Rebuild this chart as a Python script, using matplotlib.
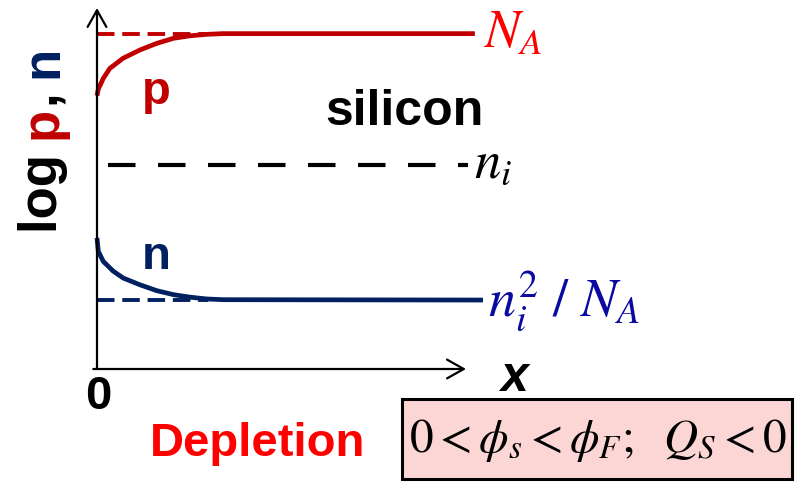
import matplotlib
matplotlib.use("Agg")
import matplotlib.pyplot as plt
from matplotlib.patches import Rectangle

plt.rcParams['mathtext.fontset'] = 'stix'
SANS = ['Liberation Sans', 'DejaVu Sans']

# Depth into the silicon (normalised) and log concentration (normalised)
depth_p = [0.0, 0.0035, 0.017, 0.035, 0.071, 0.117, 0.162, 0.207, 0.252, 0.297, 0.341, 1.024]
log_p = [0.757, 0.775, 0.805, 0.833, 0.861, 0.884, 0.902, 0.916, 0.923, 0.927, 0.929, 0.929]

depth_n = [0.0, 0.0035, 0.017, 0.044, 0.071, 0.117, 0.162, 0.207, 0.252, 0.297, 0.342, 1.046]
log_n = [0.363, 0.326, 0.298, 0.271, 0.252, 0.233, 0.217, 0.206, 0.199, 0.194, 0.192, 0.191]

level_NA = 0.929      # log N_A
level_ni = 0.565      # log n_i
level_n0 = 0.191      # log n_i^2 / N_A

RED = '#C00000'
NAVY = '#002060'

W, H = 796, 482
fig = plt.figure(figsize=(W / 100, H / 100), dpi=100)
fig.patch.set_facecolor('white')

x0, y0, x1, y1 = 97, 369, 466, 8
ax = fig.add_axes([x0 / W, 1 - y0 / H, (x1 - x0) / W, (y0 - y1) / H])
ax.set_xlim(0, 1)
ax.set_ylim(0, 1)
ax.axis('off')

# axes with open arrowheads
arrow = dict(arrowstyle='->,head_length=0.8,head_width=0.45', lw=1.6, color='black',
             shrinkA=0, shrinkB=0, mutation_scale=15)
ax.annotate('', xy=(0, 1.0), xytext=(0, 0), xycoords='axes fraction', arrowprops=arrow,
            annotation_clip=False)
ax.annotate('', xy=(1.0, 0), xytext=(-0.01, 0), xycoords='axes fraction', arrowprops=arrow,
            annotation_clip=False)

# equilibrium reference levels
ax.plot([0, 0.3], [level_NA, level_NA], color=RED, lw=2.8, ls=(0, (4.5, 2)),
        solid_capstyle='butt', clip_on=False)
ax.plot([0.03, 1.005], [level_ni, level_ni], color='black', lw=3.0, ls=(0, (6.6, 5.4)),
        dash_capstyle='butt', clip_on=False)
ax.plot([0, 0.3], [level_n0, level_n0], color=NAVY, lw=2.8, ls=(0, (4.5, 2)),
        solid_capstyle='butt', clip_on=False)

# carrier profiles
ax.plot(depth_p, log_p, color=RED, lw=3.4, clip_on=False, solid_capstyle='butt')
ax.plot(depth_n, log_n, color=NAVY, lw=3.4, clip_on=False, solid_capstyle='butt')


def ftext(px, py, s, **kw):
    return fig.text(px / W, 1 - py / H, s, **kw)


# curve labels
ftext(156, 92, 'p', color=RED, fontsize=34, fontweight='bold', family=SANS,
      ha='center', va='center')
ftext(156, 257, 'n', color=NAVY, fontsize=34, fontweight='bold', family=SANS,
      ha='center', va='center')
ftext(404, 112, 'silicon', color='black', fontsize=36, fontweight='bold', family=SANS,
      ha='center', va='center')

# level labels
ftext(483, 48, r'$N_A$', color='#FF0000', fontsize=38, ha='left', va='baseline')
ftext(474, 178, r'$n_i$', color='black', fontsize=38, ha='left', va='baseline')
ftext(488, 316, r'$n_i^2\ /\ N_A$', color='#0A0AA0', fontsize=39, ha='left', va='baseline')

# y-axis label with coloured carriers, written bottom-to-top
renderer = fig.canvas.get_renderer()
parts = [('log ', 'black'), ('p', RED), (', ', 'black'), ('n', NAVY)]
ylab_kw = dict(fontsize=38, fontweight='bold', family=SANS)
py = 233
for s, c in parts:
    probe = fig.text(0, 0, s, **ylab_kw)
    w = probe.get_window_extent(renderer=renderer).width
    probe.remove()
    ftext(57, py, s, color=c, rotation=90, ha='left', va='baseline',
          rotation_mode='anchor', **ylab_kw)
    py -= w

# axis labels
ftext(98, 397, '0', color='black', fontsize=34, fontweight='bold', family=SANS,
      ha='center', va='center')
ftext(514, 378, 'x', color='black', fontsize=36, fontweight='bold', style='italic',
      family=SANS, ha='center', va='center')

# regime annotation
ftext(258, 444, 'Depletion', color='#FF0000', fontsize=34, fontweight='bold', family=SANS,
      ha='center', va='center')
bx0, by0, bx1, by1 = 402, 399, 792, 479
fig.patches.append(Rectangle((bx0 / W, 1 - by1 / H), (bx1 - bx0) / W, (by1 - by0) / H,
                             transform=fig.transFigure, facecolor='#FCD5D5',
                             edgecolor='black', lw=2.2, zorder=0))
ftext((bx0 + bx1) / 2 + 1, 440, r'$0<\phi_s<\phi_F;\ \ Q_S<0$', color='black',
      fontsize=34, ha='center', va='center', zorder=5)

fig.savefig('out.png', dpi=100)
